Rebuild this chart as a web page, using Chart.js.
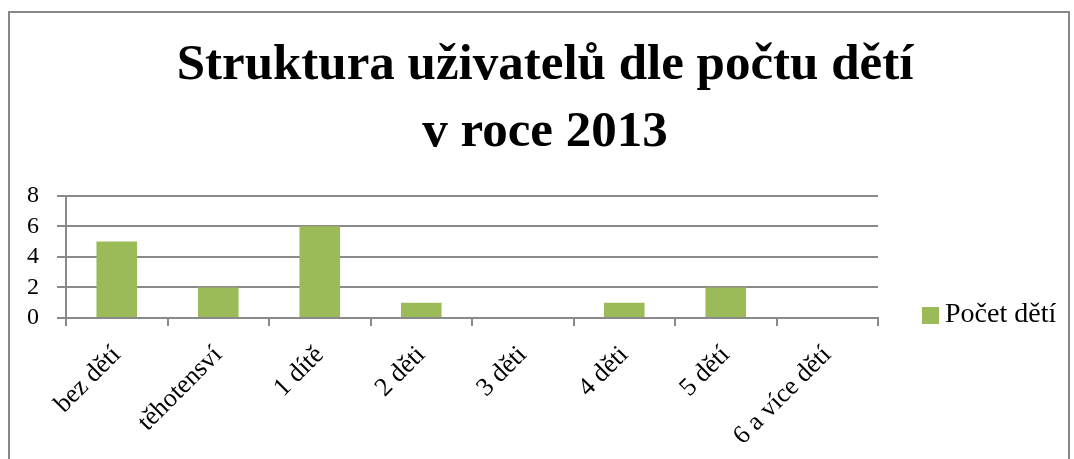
<!DOCTYPE html>
<html>
<head>
<meta charset="utf-8">
<script src="https://cdn.jsdelivr.net/npm/chart.js@4.4.0/dist/chart.umd.min.js"></script>
<style>
  body { margin: 0; background: #fff; }
  #frame { position: absolute; left: 8px; top: 11px; width: 1058px; height: 470px; border: 2px solid #888; }
  #chartCanvas { position: absolute; left: 0; top: 0; }
</style>
</head>
<body>
<div id="frame"></div>
<canvas id="chartCanvas" width="1074" height="459"></canvas>
<script>
const titleLines = ["Struktura uživatelů dle počtu dětí", "v roce 2013"];
const categories = ["bez dětí", "těhotensví", "1 dítě", "2 děti", "3 děti", "4 děti", "5 dětí", "6 a více dětí"];
const seriesName = "Počet dětí";
const seriesValues = [5, 2, 6, 1, 0, 1, 2, 0];
const yMin = 0;
const yMax = 8;
const yStep = 2;

const serif = "'Liberation Serif', 'Times New Roman', serif";
const gridGrey = "#8a8a8a";
const barGreen = "#9bbb59";

// legend drawn by hand so it can sit where the original has it
const sideLegend = {
    id: "sideLegend",
    afterDraw(chart) {
        const ctx = chart.ctx;
        const ds = chart.data.datasets[0];
        ctx.save();
        ctx.fillStyle = ds.backgroundColor;
        ctx.fillRect(922, 307, 17, 17);
        ctx.fillStyle = "#000";
        ctx.font = "28px " + serif;
        ctx.textBaseline = "middle";
        ctx.fillText(ds.label, 945, 315);
        ctx.restore();
    }
};

let canvasElement = document.getElementById("chartCanvas");

let chartCfg = {
    type: 'bar',
    data: {
        labels: categories,
        datasets: [{
            label: seriesName,
            data: seriesValues,
            backgroundColor: barGreen,
            categoryPercentage: 1.0,
            barPercentage: 0.4
        }]
    },
    options: {
        responsive: false,
        animation: false,
        layout: { padding: { left: 16, right: 0, top: 0, bottom: 0 } },
        plugins: {
            legend: { display: false },
            tooltip: { enabled: false },
            title: {
                display: true,
                text: titleLines,
                color: "#000",
                font: { family: serif, size: 51, weight: "bold", lineHeight: 1.32 },
                padding: { top: 32, bottom: 29 }
            }
        },
        scales: {
            x: {
                afterFit: (scale) => { scale.height = 141; },
                border: { display: true, color: gridGrey, width: 2 },
                grid: { display: true, drawOnChartArea: false, drawTicks: true, tickLength: 8, color: gridGrey, lineWidth: 2, offset: true },
                ticks: { color: "#000", font: { family: serif, size: 26 }, minRotation: 45, maxRotation: 45, padding: 14, autoSkip: false }
            },
            y: {
                min: yMin,
                max: yMax,
                afterFit: (scale) => { scale.width = 50; },
                border: { display: true, color: gridGrey, width: 2 },
                grid: { color: gridGrey, lineWidth: 2, tickLength: 9 },
                ticks: { stepSize: yStep, color: "#000", font: { family: serif, size: 24 }, padding: 18, autoSkip: false }
            },
            // empty right-hand box that keeps room for the legend
            legendRoom: {
                type: 'linear',
                position: 'right',
                afterFit: (scale) => { scale.width = 196; },
                border: { display: false },
                grid: { display: false },
                ticks: { display: false }
            }
        }
    },
    plugins: [sideLegend]
};

let chart = new Chart(canvasElement, chartCfg);
</script>
</body>
</html>
